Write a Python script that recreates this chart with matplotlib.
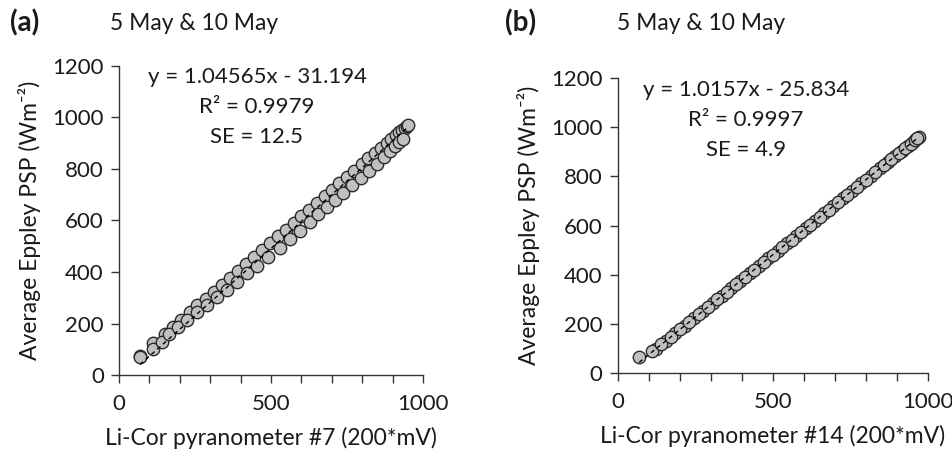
import numpy as np
import matplotlib
matplotlib.use("Agg")
import matplotlib.pyplot as plt
from matplotlib.ticker import MultipleLocator, NullFormatter

plt.rcParams['font.family'] = ['Lato', 'DejaVu Sans']

# panel (a): Li-Cor #7, two days
a1_x = [70, 112, 150, 178, 205, 232, 258, 285, 312, 338, 365, 392, 418, 445,
        470, 497, 522, 548, 574, 600, 625, 650, 676, 700, 725, 750, 774, 798,
        820, 842, 862, 880, 896, 910, 922, 932, 940, 946, 950]
a1_y = [72, 124, 160, 188, 215, 243, 270, 297, 324, 351, 378, 405, 432, 459,
        485, 512, 538, 564, 590, 616, 642, 668, 694, 719, 744, 769, 794, 818,
        841, 863, 883, 901, 917, 931, 943, 953, 960, 966, 970]
a2_x = [69, 112, 140, 165, 195, 225, 258, 290, 322, 355, 388, 421, 455, 490,
        530, 562, 595, 628, 655, 684, 711, 737, 766, 795, 822, 847, 870, 890,
        908, 922, 934]
a2_y = [70, 100, 130, 160, 188, 215, 245, 272, 302, 332, 362, 395, 425, 458,
        493, 528, 561, 594, 624, 654, 681, 707, 736, 765, 793, 820, 846, 868,
        888, 903, 918]

# panel (b): Li-Cor #14, two days
b1_x = [68, 122, 155, 185, 215, 245, 275, 305, 335, 365, 395, 425, 455, 485,
        515, 545, 575, 605, 635, 665, 695, 725, 755, 785, 815, 845, 870, 895,
        915, 935, 950, 962, 970]
b1_y = [65, 98, 132, 162, 193, 223, 254, 284, 314, 345, 375, 406, 436, 467,
        497, 528, 558, 589, 619, 650, 680, 711, 741, 772, 802, 832, 858, 883,
        904, 924, 939, 951, 960]
b2_x = [110, 140, 170, 200, 230, 260, 290, 320, 350, 380, 410, 440, 470, 500,
        530, 560, 590, 620, 650, 680, 710, 740, 770, 800, 830, 858, 882, 905,
        925, 944, 958, 966]
b2_y = [88, 118, 147, 178, 207, 240, 268, 300, 329, 361, 390, 421, 451, 482,
        512, 543, 573, 604, 634, 665, 695, 726, 756, 787, 817, 846, 870, 893,
        914, 933, 948, 956]

fit_a = (1.04565, -31.194)
fit_b = (1.0157, -25.834)
text_a = ["y = 1.04565x - 31.194", "R² = 0.9979", "SE = 12.5"]
text_b = ["y = 1.0157x - 25.834", "R² = 0.9997", "SE = 4.9"]
xlabels = ["Li-Cor pyranometer #7 (200*mV)", "Li-Cor pyranometer #14 (200*mV)"]
ylabel = "Average Eppley PSP (Wm⁻²)"

tc = '#1a1a1a'
fig = plt.figure(figsize=(9.53, 4.51), dpi=100)
ax_a = fig.add_axes([0.1249, 0.1685, 0.319, 0.6852])
ax_b = fig.add_axes([0.6485, 0.1729, 0.3253, 0.6541])


def draw(ax, xs, ys, fit, xlabel):
    for x, y in zip(xs, ys):
        ax.scatter(x, y, s=80, facecolor='#c0c0c0', edgecolor='#2b2b2b',
                   linewidth=1.0, zorder=3)
    allx = np.concatenate([np.array(x) for x in xs])
    lx = np.array([allx.min(), allx.max()])
    ax.plot(lx, fit[0] * lx + fit[1], color='black', linestyle=(0, (3, 2.5)),
            linewidth=1.0, zorder=4)
    ax.set_xlim(0, 1000)
    ax.set_ylim(0, 1200)
    ax.xaxis.set_major_locator(MultipleLocator(500))
    ax.xaxis.set_minor_locator(MultipleLocator(100))
    ax.xaxis.set_minor_formatter(NullFormatter())
    ax.yaxis.set_major_locator(MultipleLocator(200))
    ax.tick_params(which='both', direction='out', length=6, width=1,
                   color='#333333', labelsize=16, labelcolor=tc, pad=5)
    ax.tick_params(axis='x', pad=8)
    for s in ['top', 'right']:
        ax.spines[s].set_visible(False)
    for s in ['left', 'bottom']:
        ax.spines[s].set_color('#333333')
        ax.spines[s].set_linewidth(1)
    ax.set_xlabel(xlabel, fontsize=16.5, color=tc, labelpad=9)
    ax.set_ylabel(ylabel, fontsize=16.5, color=tc, labelpad=8)
    return ax


draw(ax_a, [a1_x, a2_x], [a1_y, a2_y], fit_a, xlabels[0])
draw(ax_b, [b1_x, b2_x], [b1_y, b2_y], fit_b, xlabels[1])

# equation / stats text (figure pixel positions)
W, H = 953, 451
for lines, cx, cy in [(text_a, 257, 77), (text_b, 746, 90)]:
    for i, t in enumerate(lines):
        fig.text(cx / W, 1 - (cy + i * 30) / H, t, ha='center', va='center',
                 fontsize=16, color=tc)

fig.text(10 / W, 1 - 23 / H, "(a)", ha='left', va='center', fontsize=20,
         fontweight='bold', color=tc)
fig.text(110 / W, 1 - 24 / H, "5 May & 10 May", ha='left', va='center',
         fontsize=16.5, color=tc)
fig.text(505 / W, 1 - 23 / H, "(b)", ha='left', va='center', fontsize=20,
         fontweight='bold', color=tc)
fig.text(617 / W, 1 - 24 / H, "5 May & 10 May", ha='left', va='center',
         fontsize=16.5, color=tc)

fig.savefig("out.png", dpi=100)
